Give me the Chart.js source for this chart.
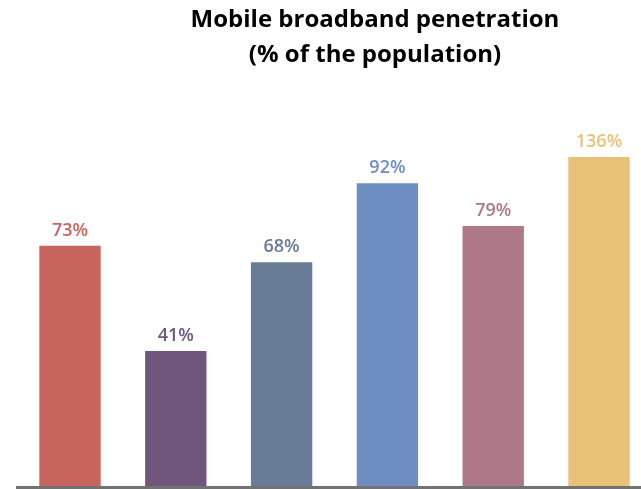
<!DOCTYPE html>
<html><head><meta charset="utf-8">
<script src="https://cdn.jsdelivr.net/npm/chart.js@4"></script>
<style>html,body{margin:0;padding:0;background:#fff}#wrap{width:641px;height:489px}</style>
</head><body><div id="wrap"><canvas id="c" width="641" height="489"></canvas></div>
<script>
const categories = ["A", "B", "C", "D", "E", "F"];
const values = [73, 41, 68, 92, 79, 136];
const valueLabels = ["73%", "41%", "68%", "92%", "79%", "136%"];
const barColors = ["#C8645E", "#70567C", "#687B97", "#6E8DC2", "#AE7888", "#E9C277"];
const titleLines = ["Mobile broadband penetration", "(% of the population)"];

const overlay = {
  id: 'overlay',
  afterDatasetsDraw(chart) {
    const ctx = chart.ctx;
    const meta = chart.getDatasetMeta(0);
    const y0 = chart.scales.y.getPixelForValue(0);
    ctx.save();
    ctx.font = '600 18px "Open Sans"';
    ctx.textAlign = 'center';
    ctx.textBaseline = 'alphabetic';
    meta.data.forEach((bar, i) => {
      const top = Math.max(bar.y, chart.chartArea.top);
      ctx.fillStyle = barColors[i];
      ctx.fillText(valueLabels[i], bar.x, top - 10);
    });
    ctx.fillStyle = '#727272';
    ctx.fillRect(16, y0, 641 - 16, 3);
    ctx.fillStyle = '#000';
    ctx.font = 'bold 24px "Open Sans"';
    ctx.textBaseline = 'middle';
    ctx.fillText(titleLines[0], 375, 20);
    ctx.fillText(titleLines[1], 375, 55);
    ctx.restore();
  }
};

new Chart(document.getElementById('c'), {
  type: 'bar',
  data: {
    labels: categories,
    datasets: [{
      data: values,
      backgroundColor: barColors,
      borderWidth: 0,
      barPercentage: 0.58,
      categoryPercentage: 1,
      clip: {left: false, right: false, top: 0, bottom: false}
    }]
  },
  options: {
    responsive: false,
    animation: false,
    events: [],
    layout: {padding: {left: 70, right: 42, top: 157, bottom: 3}},
    plugins: {legend: {display: false}, tooltip: {enabled: false}, title: {display: false}},
    scales: {
      x: {display: false, offset: false, grid: {display: false}},
      y: {display: false, min: 0, max: 100, grid: {display: false}}
    }
  },
  plugins: [overlay]
});
</script></body></html>
